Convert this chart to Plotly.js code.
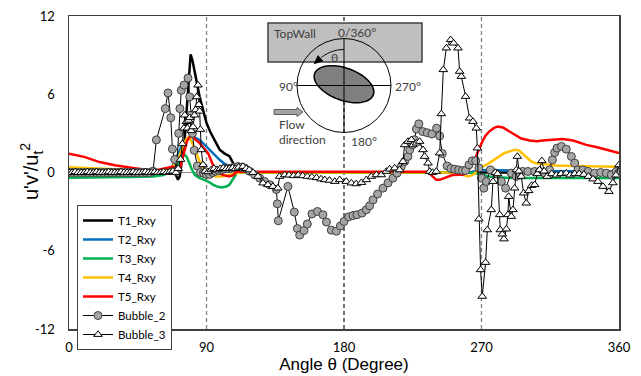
<!DOCTYPE html>
<html><head><meta charset="utf-8">
<script src="https://cdn.plot.ly/plotly-3.0.1.min.js"></script>
<style>html,body{margin:0;padding:0;background:#fff}#chart{width:641px;height:376px}</style>
</head><body><div id="chart"></div>
<script>
// ---- data (angle in degrees, u'v'/ut^2) ----
const seriesNames = ["T1_Rxy","T2_Rxy","T3_Rxy","T4_Rxy","T5_Rxy","Bubble_2","Bubble_3"];
const xTicks = [0,90,180,270,360];
const yTicks = [-12,-6,0,6,12];

const t1X = [0,30,60,66,68.5,70,71.3,72.5,74,75.7,77.2,78.5,79.6,80.8,82,83.4,85.5,87.7,90,92.5,95.4,98.6,101.9,105,107.3,108.6,110,130,180,230,260,275,300,330,360];
const t1Y = [0,0,0,0,0,-0.2,-0.55,-0.3,1.0,2.5,5.1,7.6,9.06,8.6,7.8,6.9,5.8,4.8,3.8,3.1,2.5,1.75,1.45,1.25,0.75,0.2,0,0,0,0,0,0,-0.05,-0.05,0];

const t2X = [0,30,60,65,67.5,70.3,73.6,76.8,79,81.2,83.5,85.5,88.5,92,95,98.6,101.5,105,108,111,130,200,262,268,275,290,320,360];
const t2Y = [0,0,0,0.05,0.4,1.2,2.0,2.5,2.7,2.76,2.65,2.5,2.15,1.74,1.35,0.97,0.7,0.46,0.25,0.05,0,0,0,0.15,0.2,0.15,0.1,0.1];

const t3X = [0,20,40,55,62,66,69,72,74,75.7,77,78.5,80,82.3,85,88,91,94.5,97.5,100,103,105,107,108.8,110.5,113,130,200,262,268,275,290,320,360];
const t3Y = [-0.4,-0.4,-0.35,-0.3,-0.2,0.1,0.4,0.8,1.2,1.36,1.2,0.8,0.34,-0.18,-0.4,-0.55,-0.69,-0.95,-1.1,-1.15,-1.07,-0.94,-0.56,-0.2,0.08,0,0,0,0,-0.1,-0.3,-0.43,-0.43,-0.43];

const t4X = [0,15,30,45,55,62,66,69,72,74.5,77,79,81,83.4,85,86.6,89,92,96.5,100,104,108,112,130,200,240,250,256,261,264,268,271,275,280,285,288,291.7,294.5,297,300,302.6,306,310,314.6,319,330,340,350,360];
const t4Y = [0.4,0.35,0.25,0.1,0.05,0.1,0.3,0.6,1.2,2.0,2.6,2.7,2.2,1.5,1.0,0.6,0.1,-0.2,-0.3,-0.3,-0.2,-0.1,0,0,0,0,0,-0.1,-0.3,-0.2,0.2,0.46,0.72,1.1,1.5,1.6,1.74,1.7,1.43,1.1,0.84,0.7,0.64,0.6,0.54,0.5,0.46,0.46,0.44];

const t5X = [0,10,20,30,42,50,54,58,63.7,68,70,72.4,74.6,77.2,79,81,83,85.5,88,91,94.2,96.5,98.6,101,105,107.5,109.5,115,150,200,235,238,240.4,242.6,246,249,251,255.7,258,261,264.4,267,270,272.5,275,278,280.7,284,288.4,292,296,301.5,306,310,316,323,330,338.6,345,352,360];
const t5Y = [1.43,1.2,0.8,0.55,0.34,0.2,0.15,0.2,0.34,0.46,0.3,0.2,1.23,2.38,2.76,2.8,2.5,2.25,1.9,1.49,0.59,0.2,-0.05,-0.2,-0.3,-0.2,0.05,0.05,0.05,0.05,0.05,-0.3,-0.56,-0.56,-0.4,-0.3,-0.2,-0.18,-0.18,0.1,0.72,1.4,2.25,2.8,3.14,3.4,3.53,3.45,3.14,2.85,2.6,2.45,2.4,2.45,2.5,2.56,2.45,2.12,1.95,1.75,1.49];

const b2X = [0,2.5,5,7.5,10,12.5,15,17.5,20,22.5,25,27.5,30,32.5,35,37.5,40,42.5,45,47.5,50,52.5,55,57.2,63,64.8,66.6,67.7,69.2,70.3,71.8,72.6,73.5,75.3,77.9,79,79.8,80.8,82,84,86,88,90,92,94,96,98,100,102,104,106,108,110.6,113,115,118,121.5,124.8,128,131.4,135.7,136.4,137,143.3,147.5,149.5,151,153.8,156,159,162.6,166.2,168.5,171.7,175,177.6,180,183,185.9,188.5,191.8,194.6,196.8,199,202,205.5,208.8,212,214.7,217.5,219.7,221.9,223,224.7,226.1,227.4,229,231.5,234.5,237.5,240.6,242.6,244.3,247.5,250,252.5,255,257.5,259.6,261.8,264,266.2,268.3,270,271.5,273.2,275.8,279.7,283,285.8,289.5,292.8,295,297,300.4,304.8,308,311.3,314.6,316.4,317.9,319.4,322.3,325.5,328.8,331,333.1,336.4,339.7,344,348,351.7,355,358.2,360];
const b2Y = [0,0,0,0,0,0,0,0,0,0,0,0,0,0,0,0,0,0,0,0,0,0,0.1,2.5,4.9,6.1,4.2,1.8,1.0,0.1,3.0,4.9,6.3,6.7,7.24,5.8,4.4,3.0,1.7,0.5,0.0,-0.05,-0.15,-0.15,0,0.1,0.15,0.2,0.3,0.3,0.34,0.4,0.46,0.4,0.34,0.1,-0.18,-0.43,-0.69,-0.94,-1.3,-2.4,-3.7,-1.07,-3.04,-4.3,-4.8,-4.45,-3.95,-3.18,-2.99,-3.24,-3.8,-4.42,-4.5,-4.1,-3.76,-3.4,-3.3,-3.24,-3.11,-2.86,-2.55,-2.1,-1.65,-1.2,-0.8,-0.43,-0.05,0.46,0.84,1.23,1.74,2.12,2.51,3.33,3.73,3.14,3.05,2.95,3.4,2.8,1.45,0.5,0.3,0.25,0.2,0.15,0.15,0.59,0.9,0.9,0.34,-0.43,-1.2,-0.7,0.2,-0.1,-0.69,-1.2,-0.05,-0.3,-0.05,0.08,0.08,0.08,0.08,-0.05,0.2,0.97,1.53,1.87,2.0,1.79,1.23,0.72,0.2,0.2,0.08,-0.05,0,-0.05,-0.18,0.08,0];

const b3X = [0,2,4,6,8,10,12,14,16,18,20,22,24,26,28,30,32,34,36,38,40,42,44,46,48,50,52,54,56,58,60,62,64,66,68,70,71.5,73,74.2,75.2,75.8,76.8,77.5,78.3,79,80,81.2,82.2,82.9,83.6,84.4,85,85.5,86,86.6,87.7,89,91,93,95,97,99,101,103,105,107,109,111,113.9,116,118,120.5,123.7,127,130.2,133.5,136.7,137.9,141.2,144,147,150,153,156,159,162,165,167.4,170.5,174,177.2,181.5,184.8,188,191.4,194.6,197.9,201.2,204.4,207.7,209.9,213.2,216.4,218.6,219.7,221.9,224.1,225.2,227.4,229.5,231.7,232.8,235,236.1,238,240.4,242.6,243.7,245,247,249.8,251.8,254.6,255.7,256.8,259.6,262.2,264.4,266.6,267.3,268.3,269.4,270.5,272.7,273.8,276.4,277.5,279,280.5,281.9,282.3,283.6,284.7,286.3,287.3,287.8,289.5,290.6,291.7,292.8,293.5,294.5,296,297.6,299.3,300.9,302.8,304.8,306.5,308,309.5,311,313,316,319,322,325.5,328,331,334,337,340,343,346.2,349.5,353.4,356,358,360];
const b3Y = [0,0,0.05,0,0,0,0.05,0,0,0.05,0,0,0,0.05,0,0,0,0.05,0,0,0,0.05,0,0,0,0.05,0,0,0.05,0,0,0.05,0,0.05,0.1,0,0.3,1.0,2.2,3.4,4.4,3.9,3.4,4.0,4.2,3.2,3.5,4.4,4.8,5.8,6.7,5.2,4.7,3.3,1.74,0.59,0.1,0.05,0.2,0.3,0.2,0.3,0.35,0.3,0.3,0.35,0.3,0.4,0.46,0.3,0.2,0.0,-0.3,-0.81,-0.94,-1.07,-1.2,-0.3,-0.18,-0.2,-0.25,-0.2,-0.25,-0.3,-0.35,-0.4,-0.5,-0.56,-0.6,-0.69,-0.56,-0.69,-0.81,-0.87,-0.77,-0.56,-0.3,-0.18,-0.18,0.08,0.26,0.34,0.2,0.84,2.12,2.38,2.51,2.12,2.25,2.38,1.74,1.23,0.72,0.08,0.0,0.08,1.49,4.5,7.88,9.54,10.18,9.92,9.54,7.75,7.36,5.83,4.17,3.91,3.4,1.87,-3.57,-7.46,-9.5,-6.9,-4.4,-2.86,-0.69,0.0,-0.1,-3.24,-4.4,-4.73,-5.1,-4.34,-3.24,-1.84,-3.37,-2.86,-1.2,0.2,1.23,0.1,-0.3,-1.58,-2.35,-1.4,-1.0,-0.94,-0.1,0.2,0.9,0.1,-0.3,-0.1,-0.2,-0.1,-0.05,-0.2,-0.1,-0.1,-0.15,-0.3,-0.5,-0.69,-1.07,-1.46,-0.8,-0.2,0.59];

// ---- layout helpers (pixel -> paper) ----
const L = 69, T = 16, W = 550, H = 313;
const px = x => (x - L) / W;
const py = y => (T + H - y) / H;
function polyPath(pts){ return pts.map((p,i)=>(i?'L':'M')+px(p[0]).toFixed(5)+','+py(p[1]).toFixed(5)).join('')+'Z'; }
function openPath(pts){ return pts.map((p,i)=>(i?'L':'M')+px(p[0]).toFixed(5)+','+py(p[1]).toFixed(5)).join(''); }
function ellipsePts(cx,cy,a,b,phi){ const pts=[]; for(let i=0;i<72;i++){const t=i/72*2*Math.PI;const ex=a*Math.cos(t),ey=b*Math.sin(t);pts.push([cx+ex*Math.cos(phi)-ey*Math.sin(phi),cy+ex*Math.sin(phi)+ey*Math.cos(phi)]);} return pts; }

const CX = 344, CY = 85.5, R = 47;
// theta arc
const arcPts = []; const rA = 36;
for (let d = -90; d >= -131; d -= 3) { const a = d*Math.PI/180; arcPts.push([CX + rA*Math.cos(a), CY + rA*Math.sin(a)]); }
const aEnd = -131*Math.PI/180;
const ex0 = CX + rA*Math.cos(aEnd), ey0 = CY + rA*Math.sin(aEnd);
const dx = Math.sin(aEnd), dy = -Math.cos(aEnd);
const nx = -dy, ny = dx;
const head = [[ex0 + dx*8, ey0 + dy*8],[ex0 + nx*3.5, ey0 + ny*3.5],[ex0 - nx*3.5, ey0 - ny*3.5]];

const P = {xref:'paper', yref:'paper'};
const shapes = [];
xTicks.slice(1,4).forEach(v => shapes.push({type:'line', xref:'x', yref:'y', x0:v, x1:v, y0:-12, y1:12, layer:'below',
  line:{color: v===180 ? '#222' : '#808080', width: 1.3, dash:'4px,3px'}}));
shapes.push(Object.assign({type:'rect', x0:px(268), x1:px(422), y0:py(62), y1:py(23), fillcolor:'#BFBFBF', line:{color:'#404040', width:1.5}}, P));
shapes.push(Object.assign({type:'circle', x0:px(CX-R), x1:px(CX+R), y0:py(CY+R), y1:py(CY-R), line:{color:'#000', width:1}}, P));
shapes.push(Object.assign({type:'path', path: polyPath(ellipsePts(CX,84.2,31.2,16.1,20*Math.PI/180)), fillcolor:'#808080', line:{color:'#000', width:1.5}}, P));
shapes.push(Object.assign({type:'line', x0:px(CX-R), x1:px(CX+R), y0:py(CY), y1:py(CY), line:{color:'#000', width:1}}, P));
shapes.push(Object.assign({type:'line', x0:px(CX), x1:px(CX), y0:py(CY-R), y1:py(CY+R), line:{color:'#000', width:1}}, P));
shapes.push(Object.assign({type:'path', path: openPath(arcPts), line:{color:'#000', width:1}}, P));
shapes.push(Object.assign({type:'path', path: polyPath(head), fillcolor:'#000', line:{color:'#000', width:1}}, P));
shapes.push(Object.assign({type:'path', path: polyPath([[274,109.5],[297,109.5],[297,107.5],[303,112],[297,116.5],[297,114.5],[274,114.5]]), fillcolor:'#A6A6A6', line:{color:'#595959', width:1}}, P));

const lf = {family:'Lato, "Open Sans", sans-serif', size:12, color:'#404040'};
function ann(text, x, y, xa){ return {text:text, xref:'paper', yref:'paper', x:px(x), y:py(y), xanchor:xa||'left', yanchor:'middle', showarrow:false, font:lf}; }
const annotations = [
  ann('TopWall', 272, 33),
  ann('0/360°', 336, 32),
  ann('θ', 334.5, 58, 'center'),
  ann('90°', 277, 86),
  ann('270°', 393, 87),
  ann('180°', 349, 141),
  ann('Flow', 277, 125),
  ann('direction', 277, 139),
  {text:"u'v'/u<sub>t</sub><sup>2</sup>", xref:'paper', yref:'paper', x:px(31), y:py(172), xanchor:'center', yanchor:'middle',
   textangle:-90, showarrow:false, font:{family:'"Liberation Sans", Arial, sans-serif', size:20, color:'#000'}}
];

const lineColors = ['#000000','#0070C0','#00B050','#FFC000','#FF0000'];
const tX = [t1X,t2X,t3X,t4X,t5X], tY = [t1Y,t2Y,t3Y,t4Y,t5Y];
const traces = tX.map((xs,i)=>({x:xs, y:tY[i], name:seriesNames[i], type:'scatter', mode:'lines', line:{color:lineColors[i], width:2.5}}));
traces.push({x:b2X, y:b2Y, name:seriesNames[5], type:'scatter', mode:'lines+markers', line:{color:'#000', width:1},
  marker:{symbol:'circle', size:8, color:'#A5A5A5', line:{color:'#404040', width:1}}});
traces.push({x:b3X, y:b3Y, name:seriesNames[6], type:'scatter', mode:'lines+markers', line:{color:'#000', width:1},
  marker:{symbol:'triangle-up', size:7.5, color:'#FFFFFF', line:{color:'#000', width:1}}});

const layout = {
  width:641, height:376,
  margin:{l:L, r:641-L-W, t:T, b:376-T-H},
  paper_bgcolor:'#fff', plot_bgcolor:'#fff',
  font:{family:'Lato, "Open Sans", sans-serif', size:13, color:'#000'},
  showlegend:true,
  legend:{x:px(77), y:py(205), xanchor:'left', yanchor:'top', bgcolor:'#fff', bordercolor:'#404040', borderwidth:1,
          font:{family:'Lato, sans-serif', size:11.5, color:'#000'}, tracegroupgap:0, itemwidth:30},
  xaxis:{range:[0,360], tickvals:xTicks, ticktext:xTicks.map(String), showgrid:false, zeroline:false, showline:true, mirror:true,
         linecolor:'#404040', linewidth:1.5, ticks:'', ticklabelstandoff:6, tickfont:{size:13},
         title:{text:'Angle θ (Degree)', font:{family:'"Liberation Sans", Arial, sans-serif', size:17}, standoff:1}},
  yaxis:{range:[-12,12], tickvals:yTicks, ticktext:yTicks.map(String), showgrid:false, zeroline:true, zerolinecolor:'#8C8C8C', zerolinewidth:1.5,
         showline:true, mirror:true, linecolor:'#404040', linewidth:1.5, ticks:'', ticklabelstandoff:10, tickfont:{size:13}},
  shapes:shapes, annotations:annotations
};
Plotly.newPlot('chart', traces, layout, {displayModeBar:false, staticPlot:true});
</script></body></html>
